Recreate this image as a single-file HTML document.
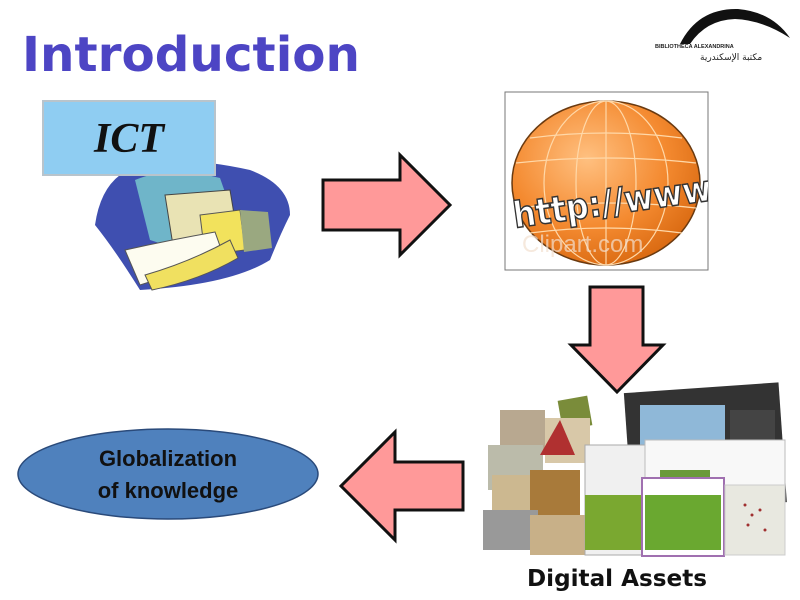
<!DOCTYPE html>
<html><head><meta charset="utf-8"><style>
html,body{margin:0;padding:0;background:#fff;}
svg{display:block;}
</style></head><body>
<svg width="800" height="600" viewBox="0 0 800 600" xmlns="http://www.w3.org/2000/svg">
<rect width="800" height="600" fill="#fff"/>
<defs>
<radialGradient id="g" cx="0.4" cy="0.35" r="0.7">
<stop offset="0" stop-color="#ffc080"/><stop offset="0.6" stop-color="#f48a30"/><stop offset="1" stop-color="#d86810"/>
</radialGradient>
<clipPath id="bx"><rect x="505" y="92" width="203" height="178"/></clipPath>
</defs>
<!-- title -->
<text x="22" y="71" font-family="DejaVu Sans, Liberation Sans, sans-serif" font-weight="bold" font-size="48" fill="#4d45c4" textLength="338" lengthAdjust="spacingAndGlyphs">Introduction</text>
<!-- logo -->
<path d="M680 44 Q698 8 738 9 Q772 12 790 38 Q762 20 735 19 Q706 20 690 44 Z" fill="#111"/>
<text x="655" y="48" font-family="Liberation Sans, sans-serif" font-weight="bold" font-size="5.5" fill="#222">BIBLIOTHECA ALEXANDRINA</text>
<text x="700" y="60" font-family="DejaVu Sans, sans-serif" font-size="9" fill="#222">مكتبة الإسكندرية</text>

<!-- ICT clip art -->
<path d="M120 175 Q160 150 250 170 Q290 185 290 215 Q280 235 270 260 Q230 285 140 290 Q115 250 95 225 Q100 190 120 175 Z" fill="#3f4fb0"/>
<path d="M135 180 Q170 165 220 178 L240 235 Q190 255 150 240 Z" fill="#6fb5c9"/>
<path d="M165 195 L230 190 L240 250 L175 258 Z" fill="#e9e3b4" stroke="#444" stroke-width="1"/>
<path d="M200 215 L240 210 L245 250 L205 255 Z" fill="#f2e25c" stroke="#555" stroke-width="1"/>
<path d="M125 250 Q170 240 215 232 L225 260 Q180 272 140 285 Z" fill="#fdfcf0" stroke="#555" stroke-width="1"/>
<path d="M145 275 Q190 262 230 240 L238 258 Q200 280 152 290 Z" fill="#f0e060" stroke="#555" stroke-width="1"/>
<path d="M240 210 L268 212 L272 248 L244 252 Z" fill="#9aa880"/>
<rect x="43" y="101" width="172" height="74" fill="#8fcdf2" stroke="#b8c4cc" stroke-width="2"/>
<text x="129" y="152" text-anchor="middle" font-family="Liberation Serif, serif" font-style="italic" font-weight="bold" font-size="42" fill="#111">ICT</text>

<!-- right arrow -->
<path d="M323 180 L400 180 L400 155 L450 205 L400 255 L400 230 L323 230 Z" fill="#ff9999" stroke="#111" stroke-width="3" stroke-linejoin="miter"/>

<!-- globe box -->
<rect x="505" y="92" width="203" height="178" fill="#fff" stroke="#777" stroke-width="1"/>
<g clip-path="url(#bx)">
<ellipse cx="606" cy="183" rx="94" ry="82" fill="url(#g)" stroke="#6a3a10" stroke-width="1.5"/>
<g stroke="#ffd8a8" stroke-width="1.2" fill="none">
<ellipse cx="606" cy="183" rx="30" ry="82"/>
<ellipse cx="606" cy="183" rx="62" ry="82"/>
<line x1="606" y1="101" x2="606" y2="265"/>
<path d="M530 138 Q606 128 682 138"/>
<path d="M516 163 Q606 153 696 163"/>
<path d="M516 208 Q606 198 696 208"/>
<path d="M530 233 Q606 223 682 233"/>
</g>
<text x="512" y="215" font-family="DejaVu Sans, sans-serif" font-weight="bold" font-size="36" fill="#fff" stroke="#333" stroke-width="1.5" transform="rotate(-8 606 200)" textLength="200" lengthAdjust="spacingAndGlyphs">http://www</text>
<text x="522" y="252" font-family="Liberation Sans, sans-serif" font-size="24" fill="#f3e0d0" opacity="0.7">Clipart.com</text>
</g>

<!-- down arrow -->
<path d="M590 287 L643 287 L643 345 L663 345 L617 392 L571 345 L590 345 Z" fill="#ff9999" stroke="#111" stroke-width="3"/>

<!-- digital assets collage -->
<rect x="628" y="388" width="155" height="120" fill="#333" transform="rotate(-4 700 450)"/>
<rect x="640" y="405" width="85" height="75" fill="#8fb8d8"/>
<rect x="730" y="410" width="45" height="40" fill="#444"/>
<rect x="560" y="398" width="30" height="30" fill="#7a8c3a" transform="rotate(-10 575 413)"/>
<rect x="500" y="410" width="45" height="40" fill="#b8a890"/>
<rect x="545" y="418" width="45" height="45" fill="#d8c8a8"/>
<rect x="488" y="445" width="55" height="45" fill="#bba"/>
<rect x="492" y="475" width="50" height="45" fill="#ccb890"/>
<rect x="530" y="470" width="50" height="45" fill="#a87a3a"/>
<polygon points="540,455 560,420 575,455" fill="#b03030"/>
<rect x="483" y="510" width="55" height="40" fill="#999"/>
<rect x="530" y="515" width="55" height="40" fill="#c8b088"/>
<rect x="585" y="445" width="60" height="110" fill="#f0f0f0" stroke="#aaa"/>
<rect x="585" y="495" width="60" height="55" fill="#7aa830"/>
<rect x="645" y="440" width="140" height="60" fill="#f8f8f8" stroke="#bbb"/>
<rect x="660" y="470" width="50" height="30" fill="#6a9a3a"/>
<rect x="642" y="478" width="82" height="78" fill="#fff" stroke="#a070b0" stroke-width="2"/>
<rect x="645" y="495" width="76" height="55" fill="#6aa830"/>
<rect x="725" y="485" width="60" height="70" fill="#e8e8e0" stroke="#ccc"/>
<g fill="#a03030"><circle cx="745" cy="505" r="1.5"/><circle cx="752" cy="515" r="1.5"/><circle cx="760" cy="510" r="1.5"/><circle cx="748" cy="525" r="1.5"/><circle cx="765" cy="530" r="1.5"/></g>
<text x="617" y="586" text-anchor="middle" font-family="DejaVu Sans, Liberation Sans, sans-serif" font-weight="bold" font-size="23" fill="#111" textLength="180" lengthAdjust="spacingAndGlyphs">Digital Assets</text>

<!-- left arrow -->
<path d="M463 462 L395 462 L395 432 L341 486 L395 540 L395 510 L463 510 Z" fill="#ff9999" stroke="#111" stroke-width="3"/>

<!-- ellipse -->
<ellipse cx="168" cy="474" rx="150" ry="45" fill="#4f81bd" stroke="#2a4a7a" stroke-width="1.5"/>
<text x="168" y="466" text-anchor="middle" font-family="Liberation Sans, sans-serif" font-weight="bold" font-size="22" fill="#111">Globalization</text>
<text x="168" y="498" text-anchor="middle" font-family="Liberation Sans, sans-serif" font-weight="bold" font-size="22" fill="#111">of knowledge</text>
</svg>
</body></html>
